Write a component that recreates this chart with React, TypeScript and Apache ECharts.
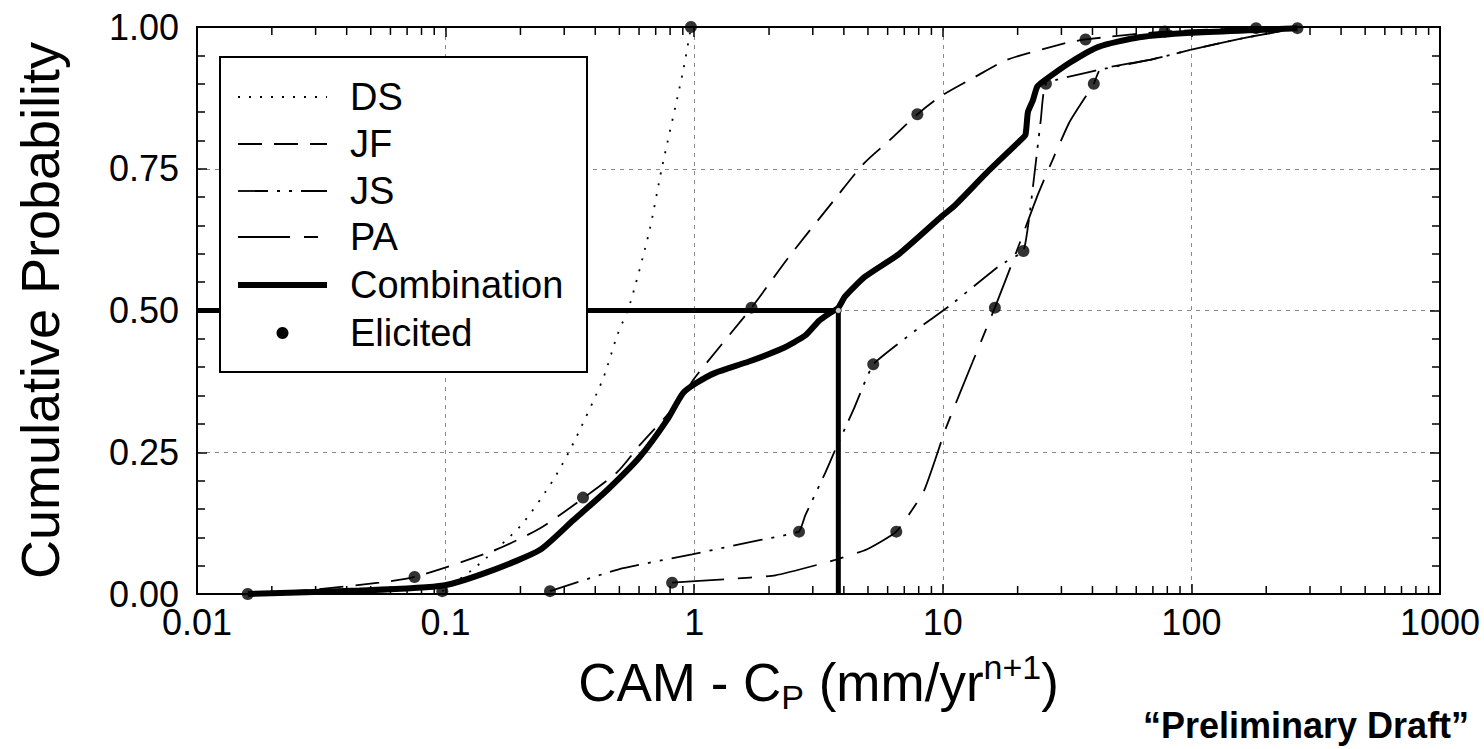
import React, { useEffect, useRef } from "react";
import * as echarts from "echarts";

const FONT = "'Liberation Sans', Arial, Helvetica, sans-serif";

// Axis ticks
const xTickValues = [0.01, 0.1, 1, 10, 100, 1000];
const xTickLabels = ["0.01", "0.1", "1", "10", "100", "1000"];
const yTickLabels = ["0.00", "0.25", "0.50", "0.75", "1.00"];
const xDecades = [0.01, 0.1, 1, 10, 100];
const xMinorMultipliers = [2, 3, 4, 5, 6, 7, 8, 9];

// DS (dotted)
const dsX = [0.097, 0.13, 0.2, 0.27, 0.33, 0.43, 0.49, 0.55, 0.66, 0.74, 0.9, 0.97];
const dsY = [0.005, 0.045, 0.12, 0.2, 0.27, 0.38, 0.456, 0.51, 0.64, 0.75, 0.92, 1.0];

// JF (dashed)
const jfX = [0.016, 0.03, 0.054, 0.075, 0.157, 0.24, 0.35, 0.49, 0.605, 0.88, 1.0, 1.7, 2.41, 3.69, 4.83, 6.1, 7.9, 9.75, 13.5, 18.1, 31.5, 37.5, 78, 180];
const jfY = [0.0, 0.008, 0.02, 0.03, 0.077, 0.116, 0.166, 0.215, 0.263, 0.342, 0.38, 0.505, 0.595, 0.697, 0.76, 0.8, 0.846, 0.877, 0.912, 0.942, 0.972, 0.978, 0.992, 0.998];

// JS (dash-dot-dot)
const jsX = [0.263, 0.5, 0.98, 1.83, 2.64, 2.8, 3.37, 3.69, 4.4, 5.25, 7.67, 10.7, 17, 21.1, 22.5, 24.8, 26, 43, 68, 100, 160, 267];
const jsY = [0.005, 0.044, 0.07, 0.095, 0.11, 0.139, 0.214, 0.254, 0.328, 0.405, 0.463, 0.509, 0.58, 0.605, 0.68, 0.837, 0.9, 0.925, 0.942, 0.96, 0.98, 0.998];

// PA (long dash, short dash)
const paX = [0.815, 1.33, 2.12, 3.69, 4.96, 6.5, 8.4, 10.3, 13.2, 16.2, 19.8, 24.3, 32.3, 40.5, 43, 68, 100, 160, 267];
const paY = [0.02, 0.026, 0.033, 0.06, 0.079, 0.11, 0.182, 0.293, 0.41, 0.505, 0.604, 0.708, 0.832, 0.9, 0.925, 0.942, 0.96, 0.98, 0.998];

// Combination (thick)
const combX = [0.016, 0.045, 0.098, 0.157, 0.24, 0.326, 0.446, 0.605, 0.778, 0.9, 1.02, 1.215, 1.66, 2.26, 2.8, 3.18, 3.5, 3.8, 4.05, 4.88, 6.68, 9.96, 11.1, 15.1, 20.5, 21.5, 22, 23, 24, 25.5, 32.4, 42.3, 61.7, 100, 193, 267];
const combY = [0.0, 0.006, 0.015, 0.043, 0.078, 0.13, 0.183, 0.242, 0.307, 0.354, 0.372, 0.39, 0.41, 0.433, 0.456, 0.482, 0.495, 0.505, 0.525, 0.56, 0.6, 0.667, 0.684, 0.744, 0.8, 0.81, 0.85, 0.87, 0.895, 0.905, 0.937, 0.965, 0.982, 0.99, 0.995, 0.998];

// Elicited points
const elicitedX = [0.016, 0.075, 0.097, 0.263, 0.357, 0.815, 0.97, 1.7, 2.64, 5.25, 6.5, 7.9, 16.2, 21.1, 26, 37.5, 40.5, 78, 182, 267];
const elicitedY = [0.0, 0.03, 0.005, 0.005, 0.17, 0.02, 1.0, 0.505, 0.11, 0.405, 0.11, 0.846, 0.505, 0.605, 0.9, 0.978, 0.9, 0.992, 0.998, 0.998];

// Median of combination
const medianX = [0.01, 3.8, 3.8];
const medianY = [0.5, 0.5, 0.0];

const legendNames = ["DS", "JF", "JS", "PA", "Combination", "Elicited"];
const dashDS = [2, 9];
const dashJF = [24, 12];
const dashJS = [30, 9, 3, 9, 3, 9];
const dashPA = [52, 14, 14, 14];

const footerText = "\u201CPreliminary Draft\u201D";

const zip = (xs: number[], ys: number[]) => xs.map((x, i) => [x, ys[i]]);

export default function App() {
  const ref = useRef<HTMLDivElement>(null);

  useEffect(() => {
    if (!ref.current) return;
    const chart = echarts.init(ref.current, undefined, { renderer: "svg" });

    const xMinorTicks = xDecades.flatMap((d) =>
      xMinorMultipliers.map((m) => [Number((d * m).toPrecision(3)), 0])
    );

    const xFormatter = (v: number) => {
      const i = xTickValues.findIndex((t) => Math.abs(Math.log10(t) - Math.log10(v)) < 1e-6);
      return i >= 0 ? xTickLabels[i] : "";
    };

    const thin = (dash: number[]) => ({ color: "#000", width: 1.8, type: dash as any });

    const legendRows = [97, 144, 191, 237, 285, 333];
    const legendDashes: any[] = [dashDS, dashJF, dashJS, dashPA, null];
    const lx1 = 238;
    const lx2 = 327;

    const graphics: any[] = [
      {
        type: "rect",
        z: 20,
        shape: { x: 220, y: 57, width: 367, height: 315 },
        style: { fill: "#fff", stroke: "#000", lineWidth: 2 },
      },
    ];
    legendNames.forEach((name, i) => {
      const y = legendRows[i];
      if (i < 5) {
        graphics.push({
          type: "line",
          z: 21,
          shape: { x1: lx1, y1: y, x2: lx2, y2: y },
          style: {
            stroke: "#000",
            lineWidth: i === 4 ? 6 : 1.8,
            lineDash: legendDashes[i] || undefined,
          },
        });
      } else {
        graphics.push({
          type: "circle",
          z: 21,
          shape: { cx: (lx1 + lx2) / 2, cy: y, r: 6 },
          style: { fill: "#000" },
        });
      }
      graphics.push({
        type: "text",
        z: 21,
        x: 350,
        y: y,
        style: {
          text: name,
          fontFamily: FONT,
          fontSize: 38,
          fill: "#000",
          verticalAlign: "middle",
          align: "left",
        },
      });
    });
    graphics.push({
      type: "text",
      z: 21,
      x: 1143,
      y: 743,
      style: {
        text: footerText,
        fontFamily: FONT,
        fontSize: 36,
        fontWeight: "bold",
        fill: "#000",
        verticalAlign: "bottom",
        align: "left",
      },
    });

    const axisLineStyle = { color: "#000", width: 2 };
    const tickStyle = { color: "#000", width: 1.5 };
    const gridStyle = { color: "#8a8a8a", width: 1, type: [4, 5] as any };

    const option: any = {
      animation: false,
      backgroundColor: "#fff",
      grid: { left: 197, right: 44, top: 27, bottom: 155, containLabel: false },
      xAxis: [
        {
          type: "log",
          logBase: 10,
          min: 0.01,
          max: 1000,
          splitNumber: 5,
          position: "bottom",
          axisLine: { show: true, onZero: false, lineStyle: axisLineStyle },
          axisTick: { show: true, inside: true, length: 10, lineStyle: tickStyle },
          axisLabel: {
            show: true,
            fontFamily: FONT,
            fontSize: 36,
            color: "#000",
            margin: 10,
            formatter: xFormatter,
          },
          splitLine: { show: true, lineStyle: gridStyle },
          name: "{m|CAM - C}{s|P}{m| (mm/yr}{u|n+1}{m|)}",
          nameLocation: "middle",
          nameGap: 56,
          nameTextStyle: {
            fontFamily: FONT,
            color: "#000",
            fontSize: 53,
            rich: {
              m: { fontFamily: FONT, fontSize: 53, lineHeight: 64, color: "#000" },
              s: { fontFamily: FONT, fontSize: 34, lineHeight: 22, color: "#000", verticalAlign: "bottom" },
              u: { fontFamily: FONT, fontSize: 34, lineHeight: 24, color: "#000", verticalAlign: "top" },
            },
          },
        },
        {
          type: "log",
          logBase: 10,
          min: 0.01,
          max: 1000,
          splitNumber: 5,
          position: "top",
          axisLine: { show: true, onZero: false, lineStyle: axisLineStyle },
          axisTick: { show: true, inside: true, length: 10, lineStyle: tickStyle },
          axisLabel: { show: false },
          splitLine: { show: false },
        },
      ],
      yAxis: [
        {
          type: "value",
          min: 0,
          max: 1,
          interval: 0.25,
          position: "left",
          axisLine: { show: true, onZero: false, lineStyle: axisLineStyle },
          axisTick: { show: true, inside: true, length: 10, lineStyle: tickStyle },
          minorTick: { show: true, splitNumber: 5, length: 8, lineStyle: tickStyle },
          axisLabel: {
            fontFamily: FONT,
            fontSize: 36,
            color: "#000",
            margin: 18,
            formatter: (v: number) => yTickLabels[Math.round(v / 0.25)],
          },
          splitLine: { show: true, lineStyle: gridStyle },
          name: "Cumulative Probability",
          nameLocation: "middle",
          nameGap: 130,
          nameTextStyle: { fontFamily: FONT, fontSize: 54, color: "#000" },
        },
        {
          type: "value",
          min: 0,
          max: 1,
          interval: 0.25,
          position: "right",
          axisLine: { show: true, onZero: false, lineStyle: axisLineStyle },
          axisTick: { show: true, inside: true, length: 10, lineStyle: tickStyle },
          minorTick: { show: true, splitNumber: 5, length: 8, lineStyle: tickStyle },
          axisLabel: { show: false },
          splitLine: { show: false },
        },
      ],
      graphic: graphics,
      series: [
        {
          name: "minorTicks",
          type: "custom",
          silent: true,
          clip: false,
          data: xMinorTicks,
          encode: { x: 0, y: 1 },
          renderItem: (params: any, api: any) => {
            const v = api.value(0);
            const b = api.coord([v, 0]);
            const t = api.coord([v, 1]);
            return {
              type: "group",
              children: [
                { type: "line", shape: { x1: b[0], y1: b[1], x2: b[0], y2: b[1] - 8 }, style: { stroke: "#000", lineWidth: 1.5 } },
                { type: "line", shape: { x1: t[0], y1: t[1], x2: t[0], y2: t[1] + 8 }, style: { stroke: "#000", lineWidth: 1.5 } },
              ],
            };
          },
        },
        {
          name: "DS",
          type: "line",
          data: zip(dsX, dsY),
          showSymbol: false,
          smooth: 0.25,
          lineStyle: thin(dashDS),
          z: 3,
        },
        {
          name: "JF",
          type: "line",
          data: zip(jfX, jfY),
          showSymbol: false,
          smooth: 0.25,
          lineStyle: thin(dashJF),
          z: 3,
        },
        {
          name: "JS",
          type: "line",
          data: zip(jsX, jsY),
          showSymbol: false,
          smooth: 0.12,
          lineStyle: thin(dashJS),
          z: 3,
        },
        {
          name: "PA",
          type: "line",
          data: zip(paX, paY),
          showSymbol: false,
          smooth: 0.15,
          lineStyle: thin(dashPA),
          z: 3,
        },
        {
          name: "Combination",
          type: "line",
          data: zip(combX, combY),
          showSymbol: false,
          smooth: 0.2,
          lineStyle: { color: "#000", width: 6 },
          z: 4,
        },
        {
          name: "Median",
          type: "line",
          data: zip(medianX, medianY),
          showSymbol: false,
          lineStyle: { color: "#000", width: 5 },
          z: 4,
        },
        {
          name: "Elicited",
          type: "scatter",
          data: zip(elicitedX, elicitedY),
          symbol: "circle",
          symbolSize: 12,
          itemStyle: { color: "#000" },
          z: 6,
        },
        {
          name: "MedianPoint",
          type: "scatter",
          data: [[medianX[1], medianY[0]]],
          symbol: "circle",
          symbolSize: 6,
          itemStyle: { color: "#fff", borderColor: "#000", borderWidth: 1 },
          z: 7,
        },
      ],
    };

    chart.setOption(option);
    return () => chart.dispose();
  }, []);

  return (
    <div
      ref={ref}
      style={{ position: "fixed", left: 0, top: 0, width: 1484, height: 749, background: "#fff" }}
    />
  );
}
